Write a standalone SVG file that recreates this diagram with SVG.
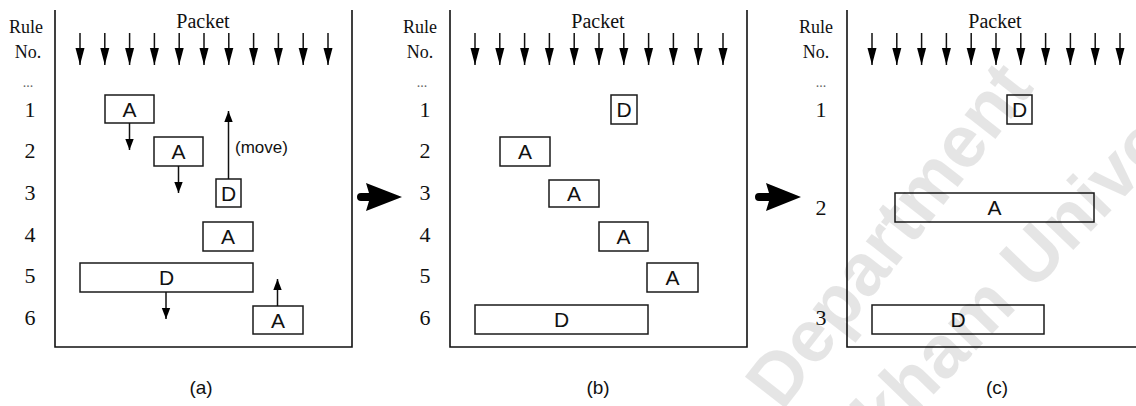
<svg xmlns="http://www.w3.org/2000/svg" width="1136" height="406" viewBox="0 0 1136 406">
  <style>
    .frame { fill: none; stroke: #111; stroke-width: 1.6; }
    .box { fill: none; stroke: #1a1a1a; stroke-width: 1.5; }
    .shaft { stroke: #111; stroke-width: 1.5; fill: none; }
    .top { marker-end: url(#headL); }
    .small { marker-end: url(#headS); }
    .serif { font-family: "Liberation Serif", "Times New Roman", serif; fill: #111; }
    .rule { font-size: 18px; text-anchor: middle; }
    .num { font-size: 22px; text-anchor: middle; }
    .dots { font-size: 14px; text-anchor: middle; fill: #666; }
    .packet { font-size: 20px; text-anchor: middle; }
    .sans { font-family: "Liberation Sans", Arial, sans-serif; fill: #111; }
    .act { font-size: 21px; text-anchor: middle; }
    .cap { font-size: 19px; text-anchor: middle; }
    .big { fill: #000; }
  </style>
  <defs>
    <marker id="headL" markerUnits="userSpaceOnUse" markerWidth="18" markerHeight="10" viewBox="0 -5 18 10" refX="17" refY="0" orient="auto">
      <path d="M0,-4.5 L17,0 L0,4.5 z" fill="#000"/>
    </marker>
    <marker id="headS" markerUnits="userSpaceOnUse" markerWidth="12" markerHeight="10" viewBox="0 -5 12 10" refX="11" refY="0" orient="auto">
      <path d="M0,-4.2 L11,0 L0,4.2 z" fill="#000"/>
    </marker>
  </defs>

  <rect width="1136" height="406" fill="#fff"/>

  <!-- panel frames (open at the top) -->
  <g id="frames">
    <path class="frame" d="M55,10 V347 H352 V10"/>
    <path class="frame" d="M450,10 V347 H747 V10"/>
    <path class="frame" d="M847,10 V347 H1144 V10"/>
  </g>

  <!-- row labels -->
  <g id="labels-a" class="serif">
    <text class="rule" x="26" y="33">Rule</text>
    <text class="rule" x="28" y="58">No.</text>
    <text class="dots" x="28" y="87">...</text>
    <text class="num" x="30" y="117">1</text>
    <text class="num" x="30" y="158">2</text>
    <text class="num" x="30" y="200">3</text>
    <text class="num" x="30" y="242">4</text>
    <text class="num" x="30" y="283">5</text>
    <text class="num" x="30" y="325">6</text>
    <text class="packet" x="203" y="28">Packet</text>
  </g>
  <g id="labels-b" class="serif">
    <text class="rule" x="420" y="33">Rule</text>
    <text class="rule" x="420" y="58">No.</text>
    <text class="dots" x="422" y="87">...</text>
    <text class="num" x="425" y="117">1</text>
    <text class="num" x="425" y="158">2</text>
    <text class="num" x="425" y="200">3</text>
    <text class="num" x="425" y="242">4</text>
    <text class="num" x="425" y="283">5</text>
    <text class="num" x="425" y="325">6</text>
    <text class="packet" x="598" y="28">Packet</text>
  </g>
  <g id="labels-c" class="serif">
    <text class="rule" x="816" y="33">Rule</text>
    <text class="rule" x="816" y="58">No.</text>
    <text class="dots" x="821" y="87">...</text>
    <text class="num" x="821" y="117">1</text>
    <text class="num" x="821" y="215">2</text>
    <text class="num" x="821" y="325">3</text>
    <text class="packet" x="995" y="28">Packet</text>
  </g>

  <!-- incoming packet arrows -->
  <g id="packet-arrows" class="shaft">
    <line class="top" x1="80" y1="33" x2="80" y2="65"/>
    <line class="top" x1="104.8" y1="33" x2="104.8" y2="65"/>
    <line class="top" x1="129.6" y1="33" x2="129.6" y2="65"/>
    <line class="top" x1="154.4" y1="33" x2="154.4" y2="65"/>
    <line class="top" x1="179.2" y1="33" x2="179.2" y2="65"/>
    <line class="top" x1="204" y1="33" x2="204" y2="65"/>
    <line class="top" x1="228.8" y1="33" x2="228.8" y2="65"/>
    <line class="top" x1="253.6" y1="33" x2="253.6" y2="65"/>
    <line class="top" x1="278.4" y1="33" x2="278.4" y2="65"/>
    <line class="top" x1="303.2" y1="33" x2="303.2" y2="65"/>
    <line class="top" x1="328" y1="33" x2="328" y2="65"/>

    <line class="top" x1="475" y1="33" x2="475" y2="65"/>
    <line class="top" x1="499.8" y1="33" x2="499.8" y2="65"/>
    <line class="top" x1="524.6" y1="33" x2="524.6" y2="65"/>
    <line class="top" x1="549.4" y1="33" x2="549.4" y2="65"/>
    <line class="top" x1="574.2" y1="33" x2="574.2" y2="65"/>
    <line class="top" x1="599" y1="33" x2="599" y2="65"/>
    <line class="top" x1="623.8" y1="33" x2="623.8" y2="65"/>
    <line class="top" x1="648.6" y1="33" x2="648.6" y2="65"/>
    <line class="top" x1="673.4" y1="33" x2="673.4" y2="65"/>
    <line class="top" x1="698.2" y1="33" x2="698.2" y2="65"/>
    <line class="top" x1="723" y1="33" x2="723" y2="65"/>

    <line class="top" x1="872" y1="33" x2="872" y2="65"/>
    <line class="top" x1="896.8" y1="33" x2="896.8" y2="65"/>
    <line class="top" x1="921.6" y1="33" x2="921.6" y2="65"/>
    <line class="top" x1="946.4" y1="33" x2="946.4" y2="65"/>
    <line class="top" x1="971.2" y1="33" x2="971.2" y2="65"/>
    <line class="top" x1="996" y1="33" x2="996" y2="65"/>
    <line class="top" x1="1020.8" y1="33" x2="1020.8" y2="65"/>
    <line class="top" x1="1045.6" y1="33" x2="1045.6" y2="65"/>
    <line class="top" x1="1070.4" y1="33" x2="1070.4" y2="65"/>
    <line class="top" x1="1095.2" y1="33" x2="1095.2" y2="65"/>
    <line class="top" x1="1120" y1="33" x2="1120" y2="65"/>
  </g>

  <!-- panel (a) rules -->
  <g id="a-r1" class="sans"><rect class="box" x="105" y="95" width="49" height="28"/><text class="act" x="129.5" y="116.5">A</text></g>
  <g id="a-r2" class="sans"><rect class="box" x="154" y="137" width="49" height="29"/><text class="act" x="178.5" y="158.5">A</text></g>
  <g id="a-r3" class="sans"><rect class="box" x="216" y="179" width="25" height="28"/><text class="act" x="228.5" y="200.5">D</text></g>
  <g id="a-r4" class="sans"><rect class="box" x="203" y="222" width="50" height="29"/><text class="act" x="228" y="243.5">A</text></g>
  <g id="a-r5" class="sans"><rect class="box" x="80" y="263" width="173" height="29"/><text class="act" x="166.5" y="284.5">D</text></g>
  <g id="a-r6" class="sans"><rect class="box" x="253" y="306" width="50" height="28"/><text class="act" x="278" y="327.5">A</text></g>

  <!-- panel (b) rules -->
  <g id="b-r1" class="sans"><rect class="box" x="611" y="95" width="26" height="29"/><text class="act" x="624" y="116.5">D</text></g>
  <g id="b-r2" class="sans"><rect class="box" x="500" y="137" width="50" height="29"/><text class="act" x="525" y="158.5">A</text></g>
  <g id="b-r3" class="sans"><rect class="box" x="549" y="180" width="50" height="27"/><text class="act" x="574" y="200.5">A</text></g>
  <g id="b-r4" class="sans"><rect class="box" x="599" y="222" width="49" height="29"/><text class="act" x="623.5" y="243.5">A</text></g>
  <g id="b-r5" class="sans"><rect class="box" x="647" y="263" width="51" height="29"/><text class="act" x="672.5" y="284.5">A</text></g>
  <g id="b-r6" class="sans"><rect class="box" x="475" y="305" width="173" height="29"/><text class="act" x="561.5" y="326.5">D</text></g>

  <!-- panel (c) rules -->
  <g id="c-r1" class="sans"><rect class="box" x="1007" y="95" width="25" height="29"/><text class="act" x="1019.5" y="116.5">D</text></g>
  <g id="c-r2" class="sans"><rect class="box" x="895" y="193" width="199" height="29"/><text class="act" x="994.5" y="214.5">A</text></g>
  <g id="c-r3" class="sans"><rect class="box" x="872" y="305" width="172" height="29"/><text class="act" x="958" y="326.5">D</text></g>

  <!-- reordering arrows in panel (a) -->
  <g id="connectors" class="shaft">
    <line class="small" x1="129.5" y1="123" x2="129.5" y2="150"/>
    <line class="small" x1="178.5" y1="166" x2="178.5" y2="193"/>
    <line class="small" x1="228.5" y1="179" x2="228.5" y2="111"/>
    <line class="small" x1="166" y1="292" x2="166" y2="319"/>
    <line class="small" x1="277.5" y1="306" x2="277.5" y2="279"/>
  </g>
  <text class="sans" x="235" y="153" font-size="17">(move)</text>

  <!-- transition arrows between panels -->
  <g id="steps" class="big">
    <path d="M361,193 H369 L366,183 L402,197 L366,211 L369,201 H361 A4,4 0 0 1 361,193 z"/>
    <path d="M759,193 H769 L766,183 L801,197 L766,211 L769,201 H759 A4,4 0 0 1 759,193 z"/>
  </g>

  <!-- captions -->
  <g id="captions" class="sans">
    <text class="cap" x="201" y="394">(a)</text>
    <text class="cap" x="598" y="394">(b)</text>
    <text class="cap" x="997" y="394">(c)</text>
  </g>

  <!-- watermark -->
  <g id="watermark" font-family="Liberation Sans, Arial, sans-serif" font-weight="bold" font-size="74" fill="#000" fill-opacity="0.1">
    <text transform="translate(782,412) rotate(-52)">Department</text>
    <text transform="translate(884,446) rotate(-46)">kham Universi</text>
  </g>
</svg>
